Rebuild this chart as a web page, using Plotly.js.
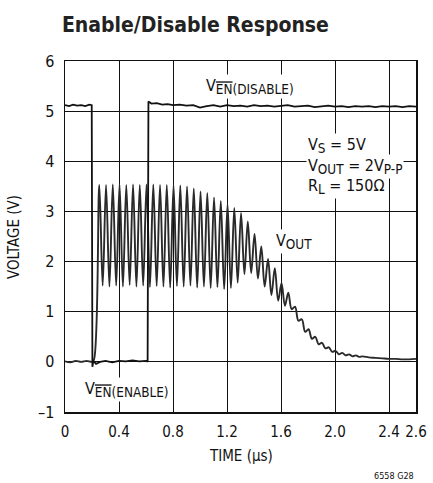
<!DOCTYPE html>
<html>
<head>
<meta charset="utf-8">
<script src="https://cdn.plot.ly/plotly-3.0.1.min.js"></script>
<style>html,body{margin:0;padding:0;background:#fff;}#chart{width:433px;height:483px;}</style>
</head>
<body>
<div id="chart"></div>
<script>
// Enable signal V_EN (time in µs, voltage in V)
var enTime = [0, 0.03, 0.06, 0.09, 0.12, 0.15, 0.18, 0.198, 0.203, 0.21, 0.23, 0.26, 0.3, 0.35, 0.4, 0.45, 0.5, 0.55, 0.6, 0.612, 0.618, 0.64, 0.68, 0.72, 0.76, 0.8, 0.85, 0.9, 0.95, 1.0, 1.05, 1.1, 1.15, 1.2, 1.25, 1.3, 1.35, 1.4, 1.45, 1.5, 1.55, 1.6, 1.65, 1.7, 1.75, 1.8, 1.85, 1.9, 1.95, 2.0, 2.05, 2.1, 2.15, 2.2, 2.25, 2.3, 2.35, 2.4, 2.45, 2.5, 2.55, 2.6];
var enVolt = [5.12, 5.1, 5.13, 5.11, 5.12, 5.1, 5.13, 5.12, -0.1, 0.02, -0.04, 0.0, 0.02, -0.01, 0.02, 0.01, 0.03, 0.01, 0.02, 0.0, 5.19, 5.15, 5.16, 5.13, 5.14, 5.12, 5.13, 5.11, 5.12, 5.07, 5.1, 5.12, 5.09, 5.12, 5.1, 5.11, 5.09, 5.12, 5.1, 5.11, 5.09, 5.1, 5.12, 5.09, 5.1, 5.11, 5.08, 5.1, 5.11, 5.09, 5.1, 5.08, 5.1, 5.09, 5.1, 5.08, 5.1, 5.09, 5.1, 5.08, 5.1, 5.09];

// Output signal V_OUT: flat before enable, then peaks/troughs of the ringing
var outTime = [0, 0.04, 0.08, 0.12, 0.16, 0.2, 0.215,
  0.254, 0.279, 0.304, 0.329, 0.354, 0.379, 0.404, 0.429, 0.454, 0.479, 0.504, 0.529, 0.554, 0.579,
  0.604, 0.629, 0.654, 0.679, 0.704, 0.729, 0.754, 0.779, 0.804, 0.829, 0.854, 0.879, 0.904, 0.929,
  0.954, 0.979, 1.004, 1.029, 1.054, 1.079, 1.104, 1.129, 1.154, 1.179, 1.204, 1.229, 1.254, 1.279,
  1.304, 1.329, 1.354, 1.379, 1.404, 1.429, 1.454, 1.479, 1.504, 1.529, 1.554, 1.579, 1.604, 1.629,
  1.654, 1.679, 1.704, 1.729, 1.754, 1.779, 1.804, 1.829, 1.854, 1.879, 1.904, 1.929, 1.954, 1.979,
  2.004, 2.029, 2.054, 2.079, 2.104, 2.129, 2.154, 2.179, 2.204, 2.25, 2.3, 2.35, 2.4, 2.45, 2.5, 2.55, 2.6];
var outVolt = [0.01, -0.01, 0.02, 0.0, 0.02, 0.0, 0.05,
  3.53, 1.52, 3.53, 1.5, 3.54, 1.52, 3.54, 1.5, 3.53, 1.53, 3.54, 1.5, 3.53, 1.52,
  3.54, 1.49, 3.54, 1.51, 3.53, 1.5, 3.53, 1.48, 3.52, 1.51, 3.52, 1.5, 3.5, 1.52,
  3.46, 1.48, 3.4, 1.5, 3.37, 1.47, 3.28, 1.49, 3.21, 1.45, 3.14, 1.47, 3.07, 1.58,
  2.97, 1.75, 2.8, 1.77, 2.55, 1.66, 2.3, 1.5, 2.05, 1.33, 1.87, 1.22, 1.57, 1.12,
  1.38, 1.05, 1.1, 0.82, 0.85, 0.6, 0.65, 0.46, 0.5, 0.35, 0.38, 0.27, 0.29, 0.2,
  0.22, 0.15, 0.18, 0.13, 0.15, 0.11, 0.13, 0.1, 0.11, 0.09, 0.08, 0.07, 0.06, 0.06, 0.05, 0.05, 0.06];

var xTickVals = [0, 0.4, 0.8, 1.2, 1.6, 2.0, 2.4, 2.6];
var xTickText = ['0', '0.4', '0.8', '1.2', '1.6', '2.0', '2.4', '2.6'];
var yTickVals = [-1, 0, 1, 2, 3, 4, 5, 6];
var yTickText = ['–1', '0', '1', '2', '3', '4', '5', '6'];

var FONT = '"DejaVu Sans Condensed", "Liberation Sans", sans-serif';
var OL = '<span style="text-decoration:overline">EN</span>';

var traces = [
  {x: outTime, y: outVolt, type: 'scatter', mode: 'lines',
   line: {color: '#2a2a2a', width: 1.9, shape: 'spline', smoothing: 1}, hoverinfo: 'none'},
  {x: enTime, y: enVolt, type: 'scatter', mode: 'lines',
   line: {color: '#111', width: 1.8}, hoverinfo: 'none'}
];

var ann = function (x, y, text, size) {
  return {x: x, y: y, xref: 'x', yref: 'y', text: text, showarrow: false,
    xanchor: 'left', yanchor: 'middle', bgcolor: '#fff', borderpad: 1,
    font: {family: FONT, size: size || 16, color: '#111'}};
};
var BIGSUB = function (s) { return '<sub><span style="font-size:120%">' + s + '</span></sub>'; };

var layout = {
  width: 433, height: 483,
  margin: {l: 65, r: 17, t: 61, b: 71},
  paper_bgcolor: '#fff', plot_bgcolor: '#fff',
  showlegend: false,
  font: {family: FONT, color: '#111'},
  title: {text: '<b>Enable/Disable Response</b>', x: 0.143, xanchor: 'left', xref: 'container',
    y: 0.948, yanchor: 'middle', yref: 'container', font: {family: FONT, size: 21, color: '#222'}},
  xaxis: {range: [0, 2.6], dtick: 0.2, tick0: 0, showgrid: true, gridcolor: '#111', gridwidth: 1,
    zeroline: false, showline: true, linecolor: '#111', linewidth: 1.5, mirror: true,
    tickmode: 'array', tickvals: xTickVals, ticktext: xTickText,
    ticks: 'outside', ticklen: 5, tickcolor: 'rgba(0,0,0,0)',
    tickfont: {family: FONT, size: 15, color: '#111'}},
  yaxis: {range: [-1, 6], showgrid: true, gridcolor: '#111', gridwidth: 1,
    zeroline: false, showline: true, linecolor: '#111', linewidth: 1.5, mirror: true,
    tickmode: 'array', tickvals: yTickVals, ticktext: yTickText,
    ticks: 'outside', ticklen: 6, tickcolor: 'rgba(0,0,0,0)',
    tickfont: {family: FONT, size: 16, color: '#111'}},
  annotations: [
    ann(1.03, 5.5, 'V' + BIGSUB(OL + '(DISABLE)')),
    ann(1.785, 4.32, 'V' + BIGSUB('S') + ' = 5V'),
    ann(1.785, 3.9, 'V' + BIGSUB('OUT') + ' = 2V' + BIGSUB('P-P')),
    ann(1.785, 3.5, 'R' + BIGSUB('L') + ' = 150Ω'),
    ann(1.55, 2.4, 'V' + BIGSUB('OUT')),
    ann(0.13, -0.56, 'V' + BIGSUB(OL + '(ENABLE)')),
    {x: 0, y: 0, xref: 'paper', yref: 'paper', text: 'TIME (µs)', showarrow: false,
     xanchor: 'center', yanchor: 'middle', font: {family: FONT, size: 15, color: '#111'}},
    {x: 0, y: 0, xref: 'paper', yref: 'paper', text: 'VOLTAGE (V)', showarrow: false, textangle: -90,
     xanchor: 'center', yanchor: 'middle', font: {family: FONT, size: 15, color: '#111'}},
    {x: 1, y: 0, xref: 'paper', yref: 'paper', text: '6558 G28', showarrow: false,
     xanchor: 'right', yanchor: 'middle', font: {family: FONT, size: 9, color: '#111'}}
  ]
};
// place the axis titles and figure code in pixel terms relative to the plot area
var PW = 433 - 65 - 17, PH = 483 - 61 - 71;
layout.annotations[7].x = (14 - 65) / PW;
layout.annotations[7].y = 1 - (237 - 61) / PH;
layout.annotations[6].x = (241 - 65) / PW;
layout.annotations[6].y = 1 - (456 - 61) / PH;
layout.annotations[8].y = 1 - (476 - 61) / PH;

Plotly.newPlot('chart', traces, layout, {displayModeBar: false, staticPlot: true});
</script>
</body>
</html>
